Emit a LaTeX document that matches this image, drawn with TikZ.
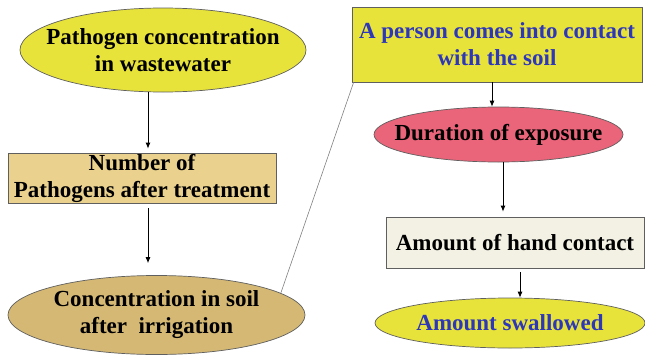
\documentclass[tikz,border=0pt]{standalone}
\usepackage{fontspec}
\setmainfont{Liberation Serif}
\newfontfamily\diagfont{Liberation Serif}[BoldFont={Liberation Serif Bold}]
\usepackage{tikz}
\usetikzlibrary{arrows.meta,shapes.geometric}
\definecolor{sunyellow}{RGB}{232,227,58}
\definecolor{wheatbox}{RGB}{234,210,142}
\definecolor{soiltan}{RGB}{212,184,116}
\definecolor{rosered}{RGB}{234,100,122}
\definecolor{paperbox}{RGB}{243,241,228}
\definecolor{inkblue}{RGB}{45,55,185}
\definecolor{rimgray}{RGB}{95,95,95}
\tikzset{
  txt/.style={font=\diagfont\fontsize{23}{27}\selectfont\bfseries,align=center},
  oval/.style={txt,ellipse,draw=rimgray,line width=0.7pt,inner xsep=-60pt,inner ysep=-20pt},
  boxed/.style={txt,rectangle,draw=rimgray,line width=0.8pt,inner sep=0pt},
  arr/.style={-{Latex[length=6pt,width=5pt]},line width=0.8pt},
  link/.style={line width=0.6pt,draw=gray}
}

\begin{document}
\begin{tikzpicture}[x=1pt,y=-1pt]
  \useasboundingbox (0,0) rectangle (645,356);

  \node[oval,fill=sunyellow,minimum width=286pt,minimum height=84pt] (ww) at (163,50)
    {Pathogen concentration\\in wastewater};
  \node[boxed,fill=wheatbox,minimum width=268pt,minimum height=50pt] (nb) at (142,178)
    {Number of\\Pathogens after treatment};
  \node[oval,fill=soiltan,minimum width=297pt,minimum height=79pt] (cs) at (156.5,315)
    {Concentration in soil\\after~~irrigation};

  \node[boxed,fill=sunyellow,text=inkblue,minimum width=290pt,minimum height=75pt] (pc) at (497,44.5)
    {A person comes into contact\\with the soil};
  \node[oval,fill=rosered,minimum width=249pt,minimum height=55pt] (de) at (498.5,134.5)
    {Duration of exposure};
  \node[boxed,fill=paperbox,minimum width=258pt,minimum height=51pt] (hc) at (515,242.5)
    {Amount of hand contact};
  \node[oval,fill=sunyellow,text=inkblue,minimum width=270pt,minimum height=50pt] (sw) at (510,323)
    {Amount swallowed};

  \draw[arr,shorten >=4pt] ([xshift=-15pt]ww.south) -- ([xshift=-15pt]ww.south |- nb.north);
  \draw[arr,shorten <=5pt,shorten >=12pt] ([xshift=6pt]nb.south) -- ([xshift=6pt]nb.south |- cs.north);
  \draw[link] (cs.10) -- ([xshift=2pt]pc.south west);
  \draw[arr] ([xshift=-5pt]pc.south) -- ([xshift=-5pt]pc.south |- de.north);
  \draw[arr,shorten >=5pt] ([xshift=4.5pt]de.south) -- ([xshift=4.5pt]de.south |- hc.north);
  \draw[arr,shorten <=4pt] ([xshift=5pt]hc.south) -- ([xshift=5pt]hc.south |- sw.north);
\end{tikzpicture}
\end{document}
